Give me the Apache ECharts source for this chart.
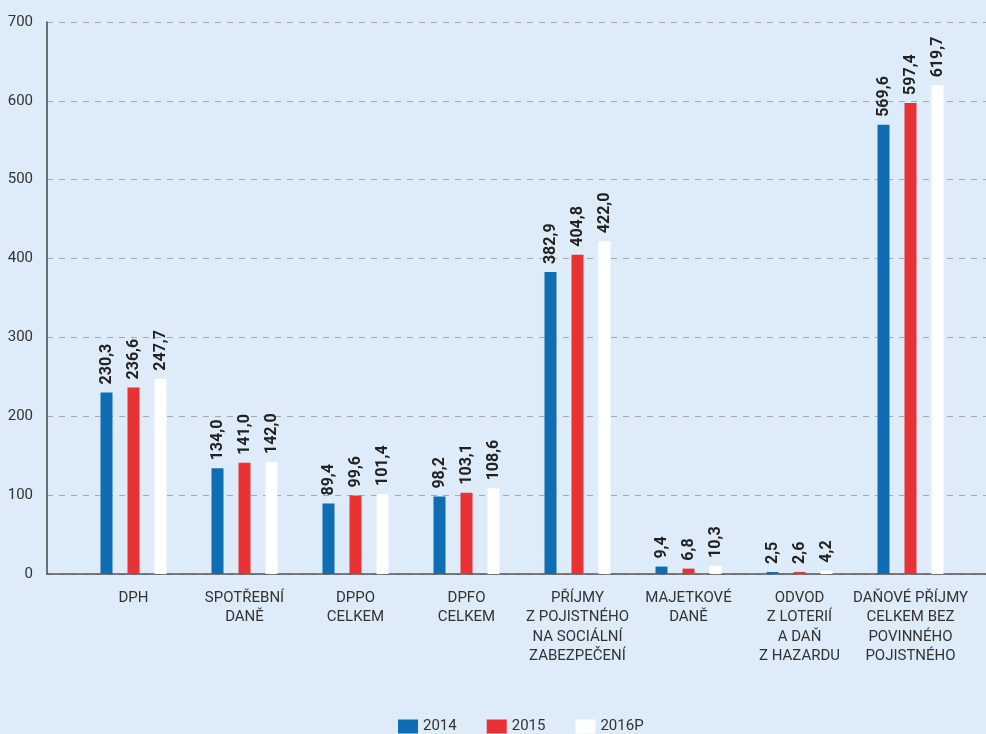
<!DOCTYPE html>
<html>
<head>
<meta charset="utf-8">
<script src="https://cdn.jsdelivr.net/npm/echarts@6/dist/echarts.min.js"></script>
<style>
  html, body { margin: 0; padding: 0; background: #deebf8; }
  #chart { width: 986px; height: 734px; }
</style>
</head>
<body>
<div id="chart"></div>
<script>
// kategorie
var categories = [
  'DPH',
  'SPOTŘEBNÍ\nDANĚ',
  'DPPO\nCELKEM',
  'DPFO\nCELKEM',
  'PŘÍJMY\nZ POJISTNÉHO\nNA SOCIÁLNÍ\nZABEZPEČENÍ',
  'MAJETKOVÉ\nDANĚ',
  'ODVOD\nZ LOTERIÍ\nA DAŇ\nZ HAZARDU',
  'DAŇOVÉ PŘÍJMY\nCELKEM BEZ\nPOVINNÉHO\nPOJISTNÉHO'
];
var seriesNames = ['2014', '2015', '2016P'];
var values2014 = [230.3, 134.0, 89.4, 98.2, 382.9, 9.4, 2.5, 569.6];
var values2015 = [236.6, 141.0, 99.6, 103.1, 404.8, 6.8, 2.6, 597.4];
var values2016 = [247.7, 142.0, 101.4, 108.6, 422.0, 10.3, 4.2, 619.7];
var colors = ['#0f6db3', '#e83233', '#ffffff'];

var myChart = echarts.init(document.getElementById('chart'));

function makeSeries(name, data, color) {
  return {
    name: name,
    type: 'bar',
    xAxisIndex: 1,
    yAxisIndex: 1,
    barWidth: 12,
    barGap: '125%',
    itemStyle: { color: color },
    label: {
      show: true,
      position: 'top',
      rotate: 90,
      align: 'left',
      verticalAlign: 'middle',
      distance: 8,
      fontFamily: 'Roboto',
      fontWeight: 'bold',
      fontSize: 16,
      color: '#222',
      formatter: function (p) {
        return p.value.toFixed(1).replace('.', ',');
      }
    },
    data: data
  };
}

var option = {
  backgroundColor: '#deebf8',
  animation: false,
  textStyle: { fontFamily: 'Roboto' },
  legend: {
    left: 398,
    top: 719,
    padding: 0,
    itemWidth: 20,
    itemHeight: 14,
    itemGap: 30,
    icon: 'rect',
    textStyle: { fontSize: 15, color: '#333', fontFamily: 'Roboto' },
    data: seriesNames
  },
  grid: [
    { left: 47, right: 0, top: 22, bottom: 160 },
    { left: 78, right: 20, top: 22, bottom: 160 }
  ],
  xAxis: [
    {
      gridIndex: 0,
      type: 'category',
      data: [''],
      axisLine: { show: true, lineStyle: { color: '#555', width: 1.5 } },
      axisTick: { show: false },
      axisLabel: { show: false }
    },
    {
      gridIndex: 1,
      type: 'category',
      data: categories,
      axisLine: { show: false },
      axisTick: { show: false },
      axisLabel: {
        interval: 0,
        margin: 14,
        fontSize: 15,
        lineHeight: 19.5,
        color: '#333',
        fontFamily: 'Roboto'
      }
    }
  ],
  yAxis: [
    {
      gridIndex: 0,
      type: 'value',
      min: 0,
      max: 700,
      interval: 100,
      axisLine: { show: true, lineStyle: { color: '#444', width: 1.5 } },
      axisTick: { show: false },
      axisLabel: { fontSize: 15, color: '#333', margin: 14, fontFamily: 'Roboto' },
      splitLine: { show: true, lineStyle: { type: [6, 6], color: '#a9a9a9' } }
    },
    {
      gridIndex: 1,
      type: 'value',
      min: 0,
      max: 700,
      interval: 100,
      show: false,
      splitLine: { show: false }
    }
  ],
  series: [
    makeSeries(seriesNames[0], values2014, colors[0]),
    makeSeries(seriesNames[1], values2015, colors[1]),
    makeSeries(seriesNames[2], values2016, colors[2])
  ]
};
myChart.setOption(option);
</script>
</body>
</html>
